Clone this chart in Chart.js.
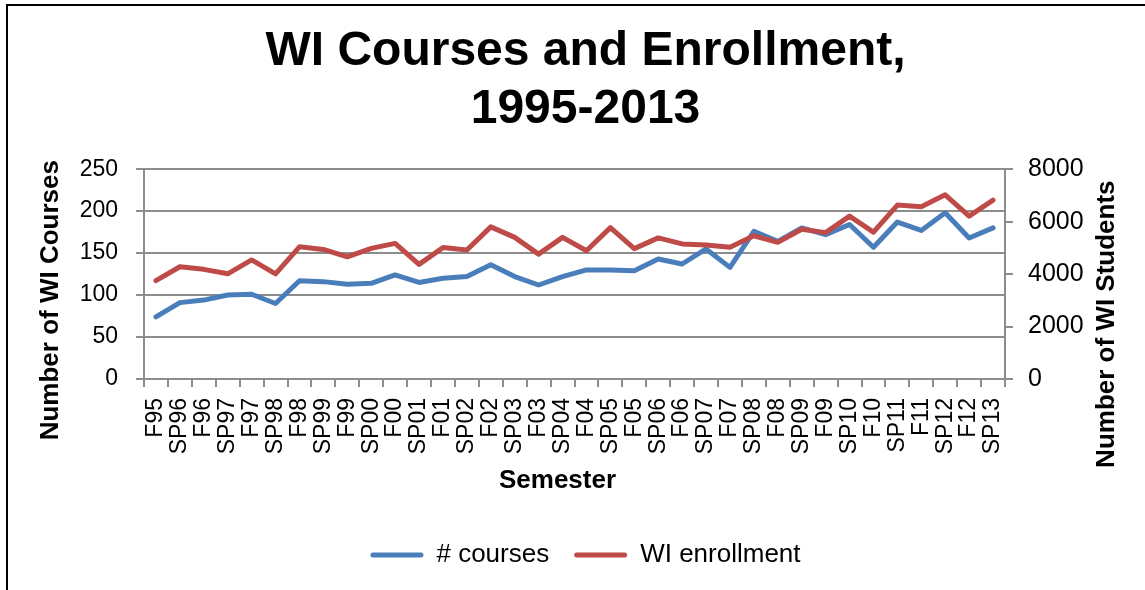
<!DOCTYPE html>
<html lang="en">
<head>
    <meta charset="UTF-8">
    <title>WI Courses and Enrollment</title>
    <script src="https://cdn.jsdelivr.net/npm/chart.js@4/dist/chart.umd.min.js"></script>
    <style>
        body {
            margin: 0;
            padding: 0;
            background: #ffffff;
            overflow: hidden;
        }
        .frame {
            position: absolute;
            left: 6px;
            top: 4px;
            width: 1200px;
            height: 700px;
            border-left: 2px solid #000;
            border-top: 2px solid #000;
        }
        canvas {
            position: absolute;
            left: 0;
            top: 0;
        }
    </style>
</head>
<body>
    <div class="frame"></div>
    <canvas id="wiChart" width="1145" height="590"></canvas>

    <script>
        // values
        const semesters = ['F95', 'SP96', 'F96', 'SP97', 'F97', 'SP98', 'F98', 'SP99', 'F99', 'SP00',
            'F00', 'SP01', 'F01', 'SP02', 'F02', 'SP03', 'F03', 'SP04', 'F04', 'SP05',
            'F05', 'SP06', 'F06', 'SP07', 'F07', 'SP08', 'F08', 'SP09', 'F09', 'SP10',
            'F10', 'SP11', 'F11', 'SP12', 'F12', 'SP13'];
        const courses = [74, 91, 94, 100, 101, 90, 117, 116, 113, 114,
            124, 115, 120, 122, 136, 122, 112, 122, 130, 130,
            129, 143, 137, 155, 133, 176, 164, 180, 172, 184,
            157, 187, 177, 198, 168, 180];
        const enrollment = [3750, 4280, 4180, 4010, 4540, 4010, 5040, 4940, 4660, 4980,
            5170, 4370, 5010, 4920, 5800, 5400, 4760, 5400, 4890, 5770,
            4970, 5380, 5150, 5110, 5020, 5460, 5210, 5710, 5580, 6210,
            5600, 6630, 6570, 7020, 6210, 6820];
        const courseTicks = [0, 50, 100, 150, 200, 250];
        const studentTicks = [0, 2000, 4000, 6000, 8000];

        const FONT = "'Liberation Sans', Arial, sans-serif";
        const GRID = '#8c8c8c';
        const BLUE = '#4a7ebb';
        const RED = '#be4b48';

        // axis titles drawn by hand so they read bottom-to-top on both sides
        const axisTitles = {
            id: 'axisTitles',
            afterDraw(chart) {
                const ctx = chart.ctx;
                const a = chart.chartArea;
                ctx.save();
                ctx.fillStyle = '#000';
                ctx.font = 'bold 26px ' + FONT;
                ctx.textAlign = 'center';
                ctx.textBaseline = 'middle';

                ctx.save();
                ctx.translate(51, a.top + 131);
                ctx.rotate(-Math.PI / 2);
                ctx.fillText('Number of WI Courses', 0, 0);
                ctx.restore();

                ctx.save();
                ctx.translate(a.right + 102, a.top + 155);
                ctx.rotate(-Math.PI / 2);
                ctx.fillText('Number of WI Students', 0, 0);
                ctx.restore();

                ctx.fillText('Semester', (a.left + a.right) / 2 - 17, a.bottom + 102);
                ctx.restore();
            }
        };

        const wiChart = new Chart(document.getElementById('wiChart'), {
            type: 'line',
            data: {
                labels: semesters,
                datasets: [{
                    label: '# courses',
                    data: courses,
                    yAxisID: 'y',
                    borderColor: BLUE,
                    backgroundColor: BLUE,
                    borderWidth: 5,
                    pointRadius: 0,
                    tension: 0,
                    borderCapStyle: 'round',
                    borderJoinStyle: 'round',
                    order: 1
                }, {
                    label: 'WI enrollment',
                    data: enrollment,
                    yAxisID: 'y1',
                    borderColor: RED,
                    backgroundColor: RED,
                    borderWidth: 5,
                    pointRadius: 0,
                    tension: 0,
                    borderCapStyle: 'round',
                    borderJoinStyle: 'round',
                    order: 0
                }]
            },
            options: {
                responsive: false,
                animation: false,
                layout: {
                    padding: { left: 26, right: 0, top: 0, bottom: 12 }
                },
                plugins: {
                    tooltip: { enabled: false },
                    title: {
                        display: true,
                        text: ['WI Courses and Enrollment,', '1995-2013'],
                        color: '#000',
                        font: { family: FONT, size: 48, weight: 'bold', lineHeight: 1.21 },
                        padding: { top: 23, bottom: 30 }
                    },
                    legend: {
                        position: 'bottom',
                        labels: {
                            color: '#000',
                            font: { family: FONT, size: 26 },
                            boxWidth: 53,
                            boxHeight: 5,
                            padding: 25,
                            useBorderRadius: true,
                            borderRadius: 2.5,
                            generateLabels(chart) {
                                return chart.data.datasets.map((ds, i) => ({
                                    text: ds.label,
                                    fillStyle: ds.borderColor,
                                    strokeStyle: ds.borderColor,
                                    lineWidth: 0,
                                    fontColor: '#000',
                                    hidden: false,
                                    borderRadius: 2.5,
                                    datasetIndex: i
                                }));
                            }
                        }
                    }
                },
                scales: {
                    x: {
                        offset: true,
                        afterFit(scale) { scale.height = 138; },
                        grid: {
                            offset: true,
                            drawOnChartArea: false,
                            drawTicks: true,
                            tickLength: 8,
                            color: GRID,
                            lineWidth: 2
                        },
                        border: { color: GRID, width: 2 },
                        ticks: {
                            color: '#000',
                            font: { family: FONT, size: 23 },
                            minRotation: 90,
                            maxRotation: 90,
                            autoSkip: false,
                            padding: 11
                        }
                    },
                    y: {
                        position: 'left',
                        min: 0,
                        max: 250,
                        afterFit(scale) { scale.width = 118; },
                        afterBuildTicks(scale) { scale.ticks = courseTicks.map(v => ({ value: v })); },
                        grid: {
                            color: GRID,
                            lineWidth: 2,
                            tickLength: 8
                        },
                        border: { color: GRID, width: 2 },
                        ticks: {
                            color: '#000',
                            font: { family: FONT, size: 23 },
                            padding: 18
                        }
                    },
                    y1: {
                        position: 'right',
                        min: 0,
                        max: 8000,
                        afterFit(scale) { scale.width = 140; },
                        afterBuildTicks(scale) { scale.ticks = studentTicks.map(v => ({ value: v })); },
                        grid: {
                            drawOnChartArea: false,
                            color: GRID,
                            lineWidth: 2,
                            tickLength: 8
                        },
                        border: { color: GRID, width: 2 },
                        ticks: {
                            color: '#000',
                            font: { family: FONT, size: 25 },
                            padding: 15,
                            callback: (v) => String(v)
                        }
                    }
                }
            },
            plugins: [axisTitles]
        });
    </script>
</body>
</html>
